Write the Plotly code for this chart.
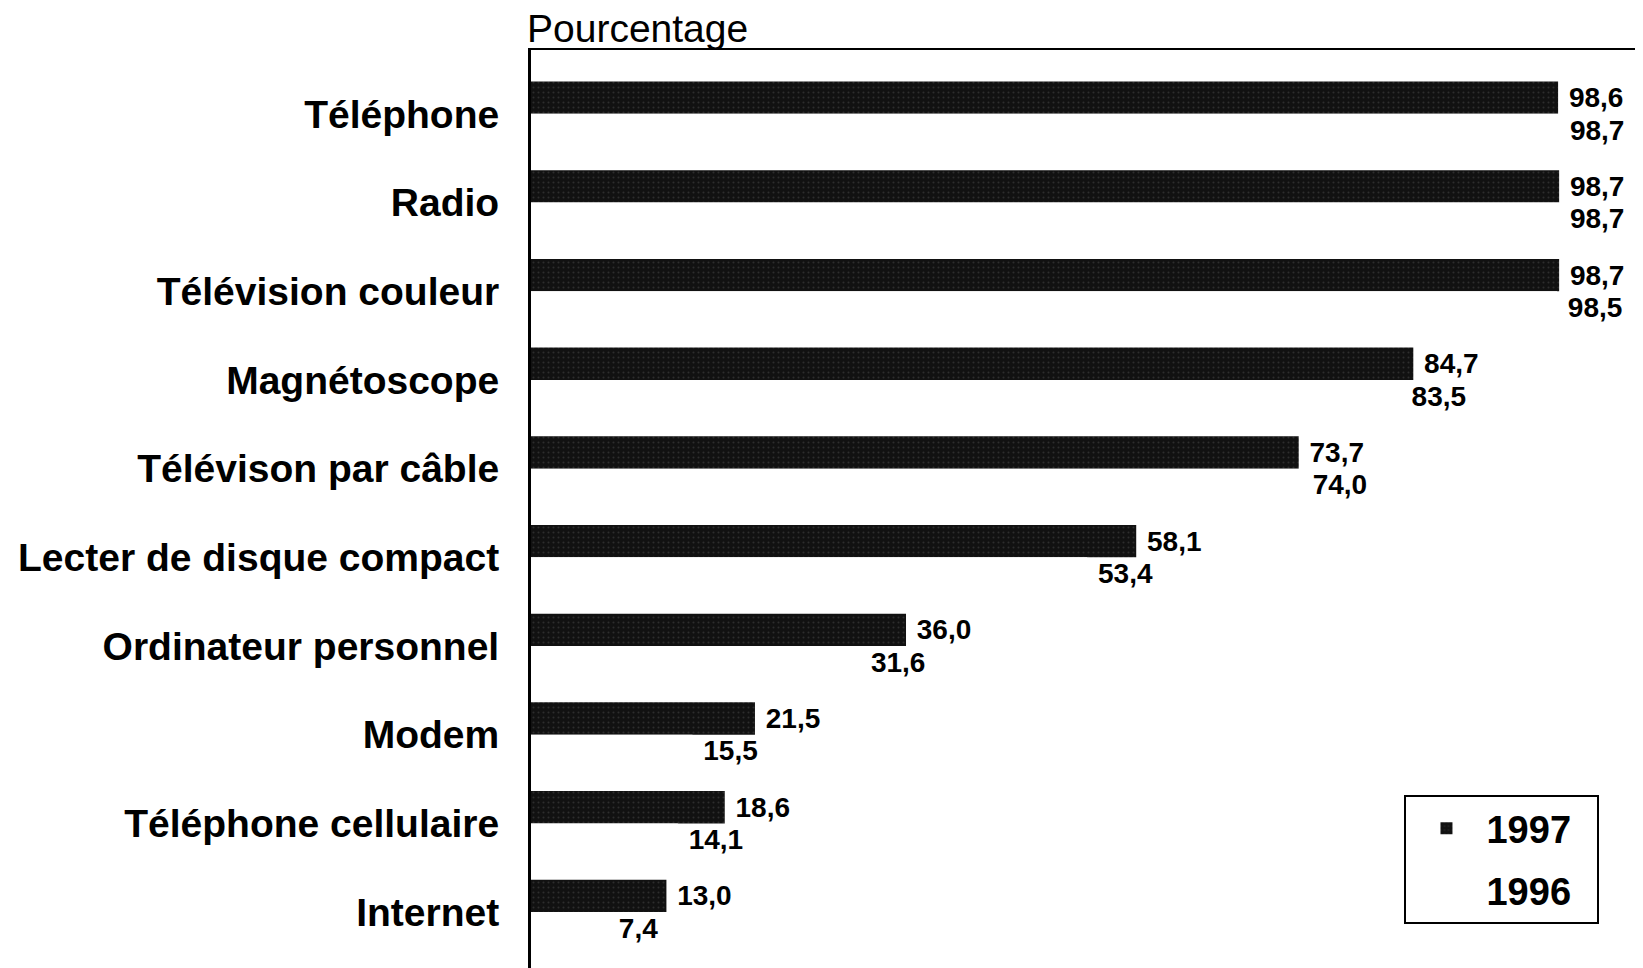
import plotly.graph_objects as go

categories = ["Téléphone", "Radio", "Télévision couleur", "Magnétoscope",
              "Télévison par câble", "Lecter de disque compact",
              "Ordinateur personnel", "Modem", "Téléphone cellulaire", "Internet"]
values_1997 = [98.6, 98.7, 98.7, 84.7, 73.7, 58.1, 36.0, 21.5, 18.6, 13.0]
values_1996 = [98.7, 98.7, 98.5, 83.5, 74.0, 53.4, 31.6, 15.5, 14.1, 7.4]
series_names = ["1997", "1996"]

def fr(v):
    return "\u00a0" + f"{v:.1f}".replace(".", ",")

FONT = "Liberation Sans, Arial, sans-serif"
PAD = "\u00a0\u00a0"

fig = go.Figure()
fig.add_trace(go.Bar(
    y=categories, x=values_1997, orientation="h", name=series_names[0] + PAD,
    legendgroup="a",
    marker=dict(color="#111111", line=dict(width=0),
                pattern=dict(shape=".", fgcolor="#4a4a4a", bgcolor="#111111",
                             size=5, solidity=0.12)),
    text=[fr(v) for v in values_1997], textposition="outside",
    textfont=dict(family=FONT, size=28, color="black", weight="bold"),
    constraintext="none", cliponaxis=False,
))
fig.add_trace(go.Bar(
    y=categories, x=values_1996, orientation="h", name=series_names[1] + PAD,
    legendgroup="b",
    marker=dict(color="white", line=dict(width=0)),
    text=[fr(v) for v in values_1996], textposition="outside",
    textfont=dict(family=FONT, size=28, color="black", weight="bold"),
    constraintext="none", cliponaxis=False,
))

fig.update_layout(
    width=1635, height=960,
    margin=dict(l=523, r=0, t=42, b=0, pad=0),
    paper_bgcolor="white", plot_bgcolor="white",
    barmode="group", bargap=0.27, bargroupgap=0.0,
    font=dict(family=FONT, color="black"),
    showlegend=True,
    legend=dict(x=0.7855, y=0.1885, xanchor="left", yanchor="top",
                bordercolor="black", borderwidth=2, bgcolor="white",
                font=dict(family=FONT, size=38, color="black", weight="bold"),
                tracegroupgap=10, itemwidth=70, traceorder="grouped"),
    xaxis=dict(side="top", range=[0, 106.75], showline=True, linecolor="black",
               linewidth=2, showticklabels=False, showgrid=False,
               zeroline=False, ticks=""),
    yaxis=dict(type="category", categoryorder="array", categoryarray=categories,
               range=[9.63, -0.72], showline=True, linecolor="black",
               linewidth=3, showgrid=False, ticks="", ticklabelstandoff=21,
               tickfont=dict(family=FONT, size=39, color="black", weight="bold")),
    annotations=[dict(text="Pourcentage", xref="paper", yref="paper",
                      x=0, y=1, xanchor="left", yanchor="bottom",
                      showarrow=False, yshift=-2, xshift=-6,
                      font=dict(family=FONT, size=39, color="black"))],
)

fig.write_html("out.html")
